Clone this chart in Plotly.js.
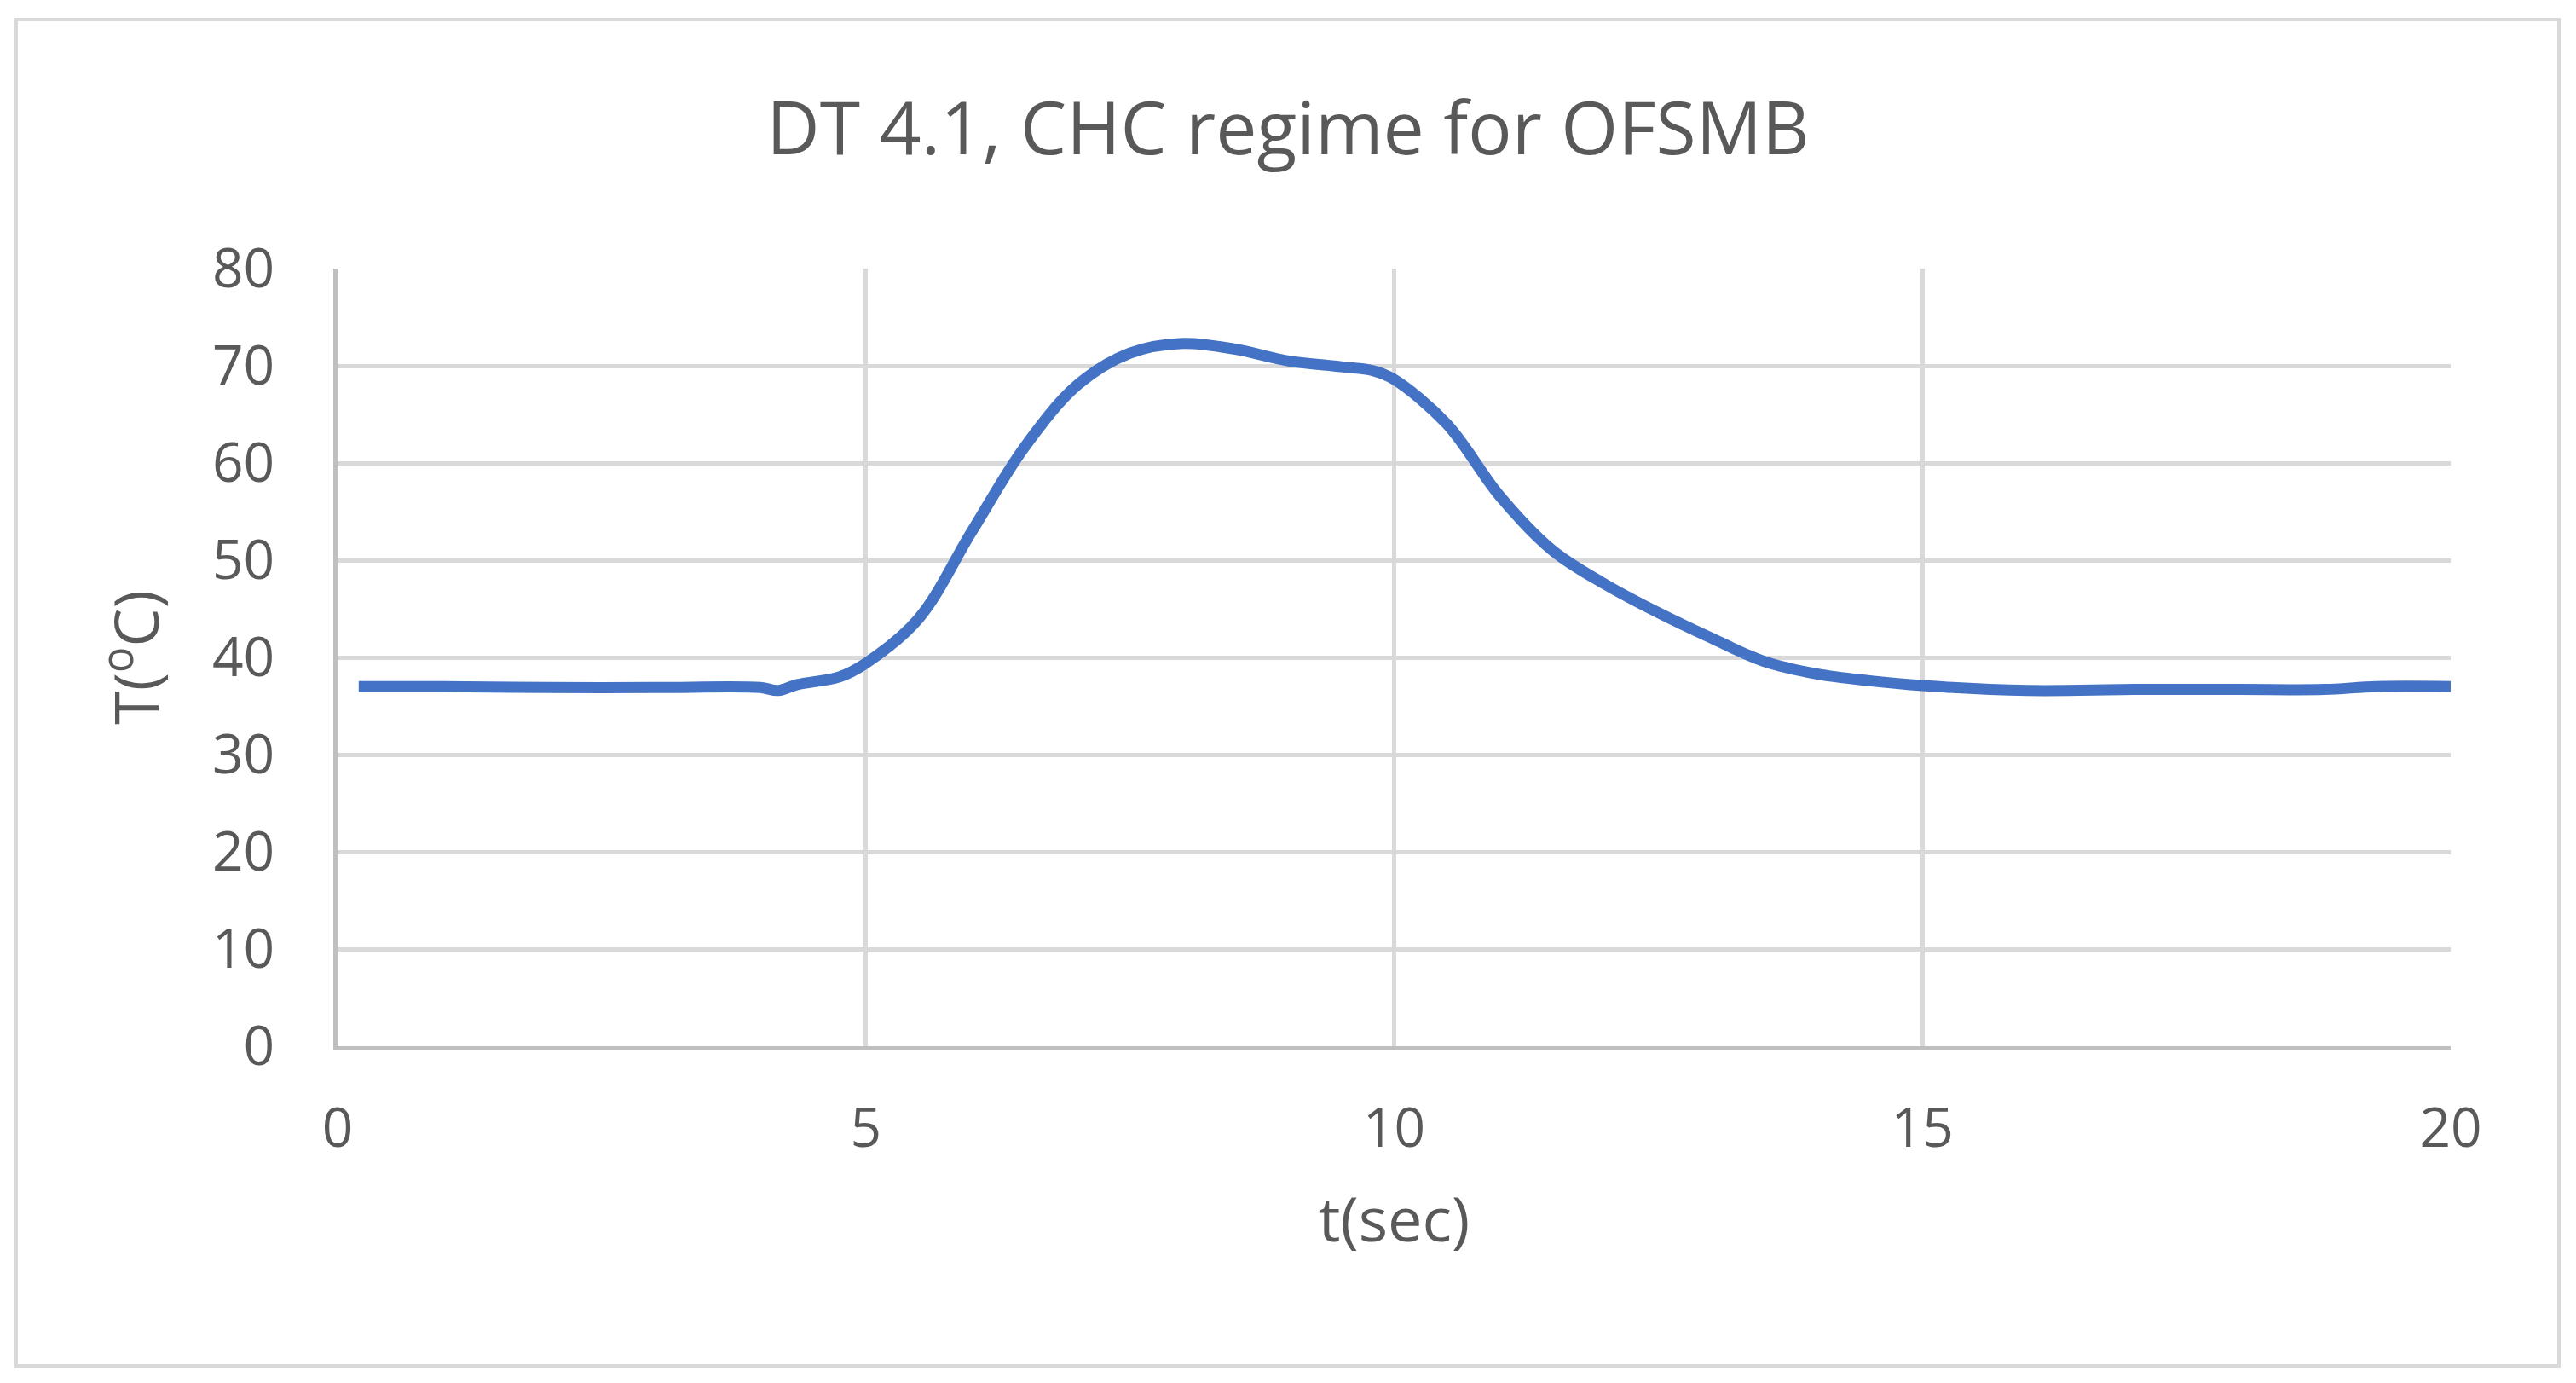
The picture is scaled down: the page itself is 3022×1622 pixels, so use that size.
<!DOCTYPE html>
<html>
<head>
<meta charset="utf-8">
<script src="https://cdn.plot.ly/plotly-3.0.1.min.js"></script>
<style>
    body { margin: 0; background: #ffffff; }
    #frame {
        position: absolute;
        left: 17px; top: 21px;
        width: 2979px; height: 1575px;
        border: 4px solid #d9d9d9;
        pointer-events: none;
    }
    #chart { position: absolute; left: 0; top: 0; }
</style>
</head>
<body>
<div id="chart"></div>
<div id="frame"></div>
<script>
// Час (с) і температура (°C).
const time_s = [
    0.2, 1, 2, 3, 4, 4.17, 4.35, 4.75, 5, 5.5, 6, 6.5, 7, 7.5, 8, 8.5, 9,
    9.5, 9.8, 10, 10.5, 11, 11.5, 12, 12.5, 13, 13.5, 14, 14.5, 15, 16, 17,
    18, 18.8, 19.3, 20,
];
const temperature = [
    37, 37, 36.9, 36.9, 36.9, 36.6, 37.2, 38, 39.4, 44, 52.9, 61.6, 68,
    71.3, 72.3, 71.7, 70.5, 69.9, 69.5, 68.6, 64, 56.6, 51, 47.5, 44.6, 42,
    39.6, 38.3, 37.6, 37.1, 36.6, 36.7, 36.7, 36.7, 37, 37,
];

const xTicks = [0, 5, 10, 15, 20];
const yTicks = [0, 10, 20, 30, 40, 50, 60, 70, 80];

const fontFamily = "Open Sans, sans-serif";
const textColor = "#595959";

const trace = {
    x: time_s,
    y: temperature,
    mode: "lines",
    type: "scatter",
    line: { color: "#4472c4", width: 13, shape: "spline", smoothing: 1 },
    hoverinfo: "x+y",
};

const layout = {
    width: 3022,
    height: 1622,
    margin: { l: 396, r: 147, t: 315, b: 395 },
    paper_bgcolor: "#ffffff",
    plot_bgcolor: "#ffffff",
    showlegend: false,
    font: { family: fontFamily, color: textColor },
    title: {
        text: "DT 4.1, CHC regime for OFSMB",
        font: { family: fontFamily, size: 86, color: textColor },
        x: 0.5,
        xref: "container",
        y: 0.907,
        yref: "container",
        yanchor: "middle",
    },
    xaxis: {
        range: [0, 20],
        tickvals: xTicks,
        ticktext: xTicks.map(String),
        showgrid: true,
        gridcolor: "#d9d9d9",
        gridwidth: 5,
        zeroline: false,
        showline: true,
        linecolor: "#bfbfbf",
        linewidth: 5,
        ticks: "",
        ticklabelstandoff: 36,
        tickfont: { size: 64, color: textColor },
        title: {
            text: "t(sec)",
            font: { size: 72, color: textColor },
            standoff: 44,
        },
    },
    yaxis: {
        range: [0, 80],
        tickvals: yTicks,
        ticktext: yTicks.map(String),
        showgrid: true,
        gridcolor: "#d9d9d9",
        gridwidth: 5,
        zeroline: false,
        showline: true,
        linecolor: "#bfbfbf",
        linewidth: 5,
        ticks: "",
        ticklabelstandoff: 56,
        tickfont: { size: 64, color: textColor },
        title: {
            text: "T(<sup>o</sup>C)",
            font: { size: 72, color: textColor },
            standoff: 40,
        },
    },
};

Plotly.newPlot("chart", [trace], layout, { staticPlot: true });
</script>
</body>
</html>
